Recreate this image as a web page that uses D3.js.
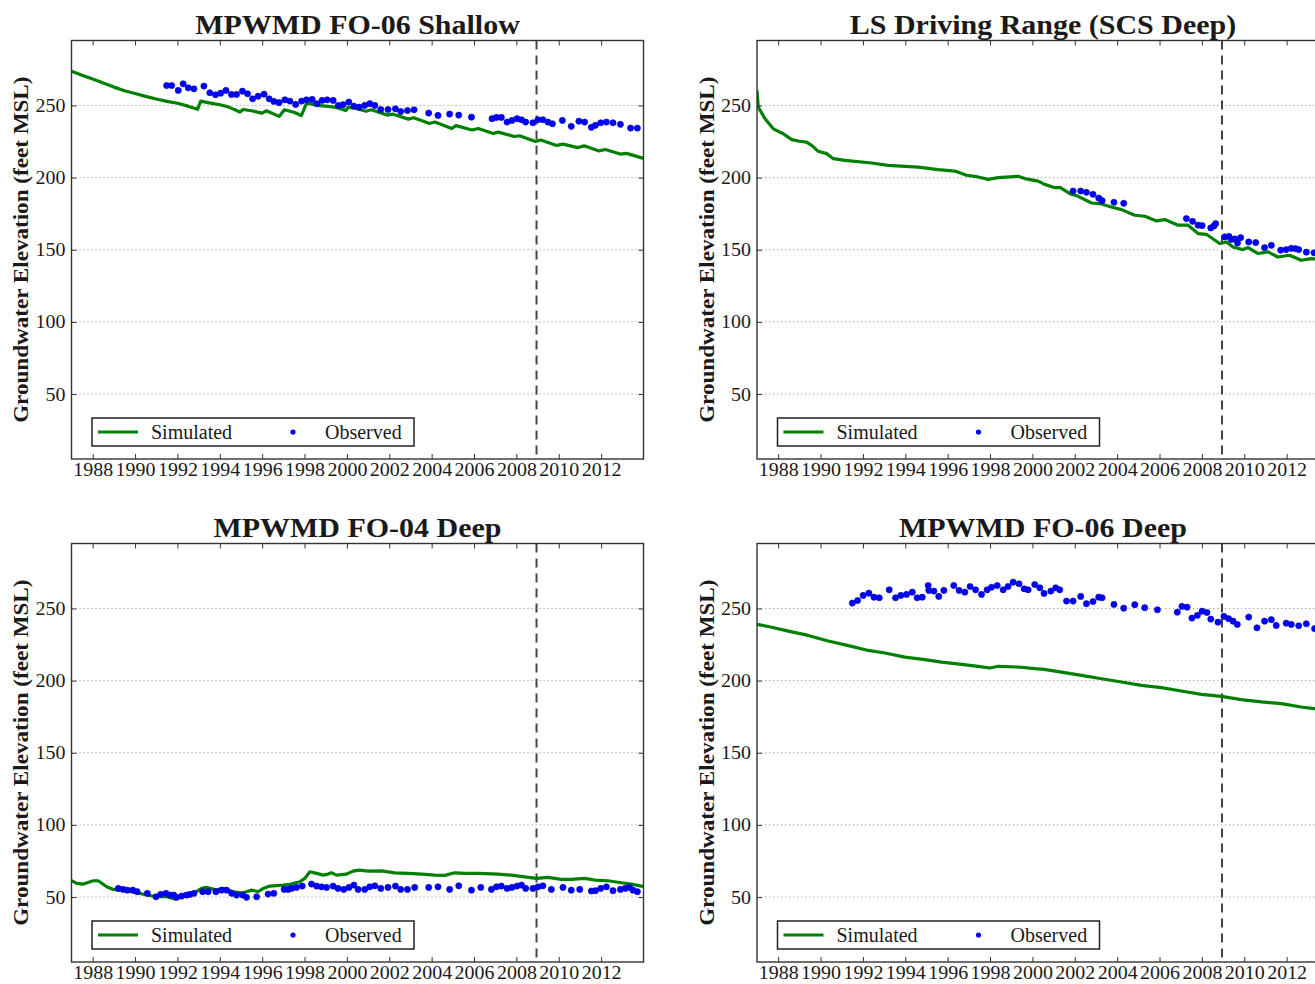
<!DOCTYPE html>
<html><head><meta charset="utf-8">
<script src="https://cdn.jsdelivr.net/npm/d3@7"></script>
<style>
body{margin:0;background:#fff;}
svg{display:block;}
text{font-family:"Liberation Serif","Times New Roman",serif;fill:#1a1a1a;}
</style>
</head><body>
<svg id="chart" width="1315" height="984"></svg>
<script>
// ---------------- DATA ----------------
const panelTitles = ["MPWMD FO-06 Shallow", "LS Driving Range (SCS Deep)", "MPWMD FO-04 Deep", "MPWMD FO-06 Deep"];
const yAxisLabel = "Groundwater Elevation (feet MSL)";
const legendLabels = ["Simulated", "Observed"];
const xTickValues = [1988,1990,1992,1994,1996,1998,2000,2002,2004,2006,2008,2010,2012];
const yTickValues = [50,100,150,200,250];
const xDomain = [1987, 2014];
const yDomain = [5, 295];
const calibrationEnd = 2008.95;

// [decimal year, feet MSL]
const fo06ShallowSim = [[1987.0,273.7],[1987.5,271.0],[1988.0,268.3],[1988.5,265.5],[1989.0,262.7],[1989.5,260.2],[1990.0,258.3],[1990.5,256.3],[1991.0,254.5],[1991.5,252.8],[1992.0,251.5],[1992.5,249.5],[1992.95,247.3],[1993.1,253.0],[1993.5,251.8],[1994.0,250.5],[1994.4,249.0],[1994.95,245.4],[1995.1,247.2],[1995.5,246.3],[1996.0,244.7],[1996.2,246.3],[1996.8,242.4],[1997.05,247.0],[1997.5,245.3],[1997.85,243.0],[1998.1,251.8],[1998.6,250.0],[1999.0,249.5],[1999.5,248.6],[1999.95,246.5],[2000.05,248.6],[2000.4,248.1],[2000.9,246.0],[2001.15,247.0],[2001.9,243.3],[2002.15,244.0],[2002.9,240.5],[2003.15,241.5],[2003.9,237.5],[2004.15,238.5],[2004.95,234.0],[2005.15,236.0],[2005.9,233.0],[2006.2,234.0],[2006.9,230.5],[2007.15,231.5],[2007.9,228.5],[2008.15,229.0],[2008.9,225.0],[2009.15,226.0],[2009.9,222.3],[2010.2,223.2],[2010.9,220.8],[2011.2,222.0],[2011.9,218.5],[2012.2,219.5],[2012.9,216.3],[2013.2,216.8],[2014.0,213.3]];
const fo06ShallowObs = [[1991.49,263.8],[1991.73,263.8],[1992.04,260.4],[1992.27,265.0],[1992.51,262.2],[1992.78,261.5],[1993.25,263.4],[1993.53,258.8],[1993.80,257.4],[1994.04,258.5],[1994.29,260.4],[1994.55,257.6],[1994.79,257.6],[1995.07,259.9],[1995.31,258.1],[1995.55,254.6],[1995.81,256.4],[1996.09,257.8],[1996.33,254.6],[1996.55,252.8],[1996.80,251.9],[1997.07,253.9],[1997.31,253.0],[1997.58,250.7],[1997.86,253.0],[1998.09,253.9],[1998.36,254.2],[1998.59,251.2],[1998.83,253.5],[1999.07,253.9],[1999.35,253.5],[1999.59,250.0],[1999.82,250.5],[2000.09,252.3],[2000.33,249.5],[2000.58,248.8],[2000.84,250.0],[2001.08,251.2],[2001.32,250.0],[2001.60,247.2],[2001.94,247.2],[2002.29,247.7],[2002.54,245.8],[2002.86,246.5],[2003.17,247.0],[2003.86,244.7],[2004.30,243.1],[2004.85,244.0],[2005.28,243.3],[2005.88,241.9],[2006.85,240.8],[2007.06,241.7],[2007.29,241.7],[2007.56,238.5],[2007.79,239.6],[2008.03,240.8],[2008.24,240.1],[2008.44,238.5],[2008.78,238.0],[2009.02,240.1],[2009.25,240.1],[2009.49,238.5],[2009.70,237.3],[2010.17,239.6],[2010.59,235.5],[2010.95,239.1],[2011.22,238.5],[2011.54,234.8],[2011.73,236.2],[2011.98,238.0],[2012.25,238.5],[2012.56,238.0],[2012.91,236.9],[2013.39,234.3],[2013.71,234.3]];

const lsDrivingSim = [[1987.0,260.4],[1987.06,248.8],[1987.38,240.8],[1987.77,233.8],[1988.24,230.4],[1988.64,226.3],[1989.0,225.2],[1989.34,224.6],[1989.58,222.3],[1989.89,218.2],[1990.29,216.6],[1990.6,213.1],[1991.15,211.9],[1992.41,210.1],[1993.19,208.5],[1994.61,207.3],[1995.55,205.5],[1996.34,204.5],[1996.89,201.6],[1997.28,200.9],[1997.91,198.8],[1998.38,200.0],[1999.33,200.9],[1999.64,199.3],[2000.27,197.6],[2000.58,195.3],[2001.06,193.0],[2001.3,193.2],[2001.77,188.9],[2002.16,187.0],[2002.79,182.4],[2003.18,182.0],[2003.73,179.6],[2004.21,177.8],[2004.83,173.9],[2005.31,173.2],[2005.86,170.0],[2006.25,170.9],[2006.88,167.0],[2007.35,167.0],[2007.82,161.2],[2008.21,160.7],[2008.84,154.3],[2009.16,155.4],[2009.47,151.9],[2009.94,150.1],[2010.18,151.5],[2010.65,147.4],[2011.12,148.5],[2011.59,145.0],[2012.14,146.2],[2012.69,142.7],[2013.16,143.9],[2014.0,142.5]];
const lsDrivingObs = [[2001.92,190.7],[2002.28,190.7],[2002.55,189.8],[2002.86,188.4],[2003.13,185.8],[2003.29,184.0],[2003.85,182.9],[2004.31,182.2],[2007.27,171.6],[2007.56,169.7],[2007.82,167.0],[2008.01,166.7],[2008.42,165.1],[2008.57,166.5],[2008.65,168.1],[2009.08,158.9],[2009.28,159.3],[2009.39,157.1],[2009.55,157.5],[2009.68,154.7],[2009.83,158.4],[2010.21,155.4],[2010.54,155.0],[2010.96,151.5],[2011.28,153.1],[2011.72,149.7],[2011.98,150.1],[2012.22,151.0],[2012.41,150.8],[2012.57,150.1],[2012.93,148.3],[2013.29,147.9],[2013.6,148.6]];

const fo04DeepSim = [[1987.0,61.3],[1987.25,59.5],[1987.56,59.0],[1988.03,61.3],[1988.26,61.3],[1988.66,57.1],[1988.97,55.3],[1989.6,54.4],[1990.08,53.0],[1990.55,51.4],[1991.02,50.2],[1991.49,50.2],[1991.88,48.6],[1992.27,50.2],[1992.75,52.6],[1993.14,56.0],[1993.38,56.7],[1993.85,54.8],[1994.16,56.0],[1994.63,53.7],[1995.03,53.0],[1995.26,53.7],[1995.5,54.8],[1995.81,53.7],[1996.05,56.0],[1996.36,57.6],[1996.99,58.3],[1997.31,58.8],[1997.78,60.6],[1998.01,62.9],[1998.25,67.5],[1998.57,66.4],[1998.88,65.2],[1999.11,65.9],[1999.27,66.8],[1999.51,65.2],[1999.98,65.9],[2000.29,68.0],[2000.58,68.7],[2001.0,68.0],[2001.63,68.2],[2002.26,66.8],[2002.89,66.4],[2003.52,65.9],[2004.15,65.2],[2004.62,65.0],[2005.09,66.8],[2005.56,66.4],[2006.19,66.4],[2007.13,65.9],[2007.76,65.2],[2008.39,64.0],[2008.94,62.9],[2009.49,63.6],[2010.12,62.2],[2010.59,62.2],[2011.22,62.9],[2011.69,61.8],[2012.32,61.3],[2012.95,59.9],[2013.42,59.0],[2013.9,57.6],[2014.0,57.3]];
const fo04DeepObs = [[1989.21,56.0],[1989.44,55.3],[1989.63,54.8],[1989.89,54.8],[1990.10,53.7],[1990.58,52.6],[1990.99,50.2],[1991.21,51.9],[1991.46,52.6],[1991.65,51.4],[1991.83,51.4],[1991.96,49.8],[1992.20,50.7],[1992.43,51.4],[1992.59,51.9],[1992.78,52.6],[1993.19,53.7],[1993.45,53.7],[1993.82,53.7],[1994.08,54.8],[1994.32,54.8],[1994.56,52.6],[1994.79,51.4],[1995.08,51.4],[1995.26,49.8],[1995.74,50.2],[1996.28,52.1],[1996.55,52.6],[1997.04,55.3],[1997.23,55.3],[1997.39,56.0],[1997.62,56.7],[1997.89,57.6],[1998.33,59.0],[1998.57,57.6],[1998.80,57.1],[1999.04,56.7],[1999.35,57.6],[1999.58,56.0],[1999.85,55.3],[2000.10,56.7],[2000.33,58.3],[2000.53,55.3],[2000.84,55.3],[2001.08,57.1],[2001.32,57.8],[2001.60,56.0],[2001.94,56.7],[2002.29,57.6],[2002.54,55.3],[2002.86,55.3],[2003.20,56.7],[2003.86,56.7],[2004.30,57.1],[2004.85,55.3],[2005.28,57.8],[2005.88,54.8],[2006.32,56.7],[2006.82,55.3],[2007.06,57.1],[2007.29,57.6],[2007.56,56.0],[2007.79,56.7],[2008.03,57.6],[2008.24,58.3],[2008.44,56.0],[2008.78,56.0],[2009.02,57.1],[2009.25,57.8],[2009.65,55.3],[2010.20,56.7],[2010.59,54.8],[2010.99,55.3],[2011.54,54.2],[2011.73,54.4],[2011.98,56.0],[2012.25,57.1],[2012.56,54.4],[2012.91,55.3],[2013.14,56.0],[2013.34,56.7],[2013.50,54.8],[2013.71,53.7]];

const fo06DeepSim = [[1987.0,239.0],[1987.53,237.5],[1988.48,234.3],[1989.42,231.3],[1990.36,227.4],[1991.47,223.7],[1992.25,220.9],[1993.04,219.1],[1993.98,216.3],[1994.92,214.5],[1995.71,212.8],[1996.66,211.2],[1997.44,209.9],[1997.99,208.7],[1998.38,209.9],[1999.33,209.4],[2000.11,208.3],[2000.55,207.8],[2001.37,205.9],[2002.32,203.6],[2003.26,201.3],[2004.2,199.0],[2005.15,196.7],[2006.09,195.1],[2007.03,192.8],[2007.98,190.5],[2008.92,189.1],[2009.86,186.8],[2010.81,185.2],[2011.75,184.0],[2012.69,181.7],[2013.29,180.6],[2014.0,179.5]];
const fo06DeepObs = [[1991.50,253.7],[1991.75,255.5],[1992.01,259.0],[1992.28,260.6],[1992.52,257.8],[1992.77,257.4],[1993.24,262.9],[1993.54,257.4],[1993.79,259.0],[1994.06,259.7],[1994.33,261.3],[1994.56,257.4],[1994.80,257.8],[1995.08,265.9],[1995.11,262.5],[1995.35,262.0],[1995.58,258.3],[1995.82,262.5],[1996.29,265.9],[1996.54,262.5],[1996.81,261.3],[1997.06,265.2],[1997.32,262.9],[1997.60,259.7],[1997.86,262.9],[1998.07,264.7],[1998.34,265.9],[1998.62,262.9],[1998.85,265.2],[1999.09,268.2],[1999.37,267.1],[1999.61,263.6],[1999.80,262.9],[2000.11,266.6],[2000.35,264.3],[2000.55,260.4],[2000.87,262.0],[2001.10,264.3],[2001.29,262.9],[2001.61,255.1],[2001.92,255.1],[2002.28,258.3],[2002.55,253.3],[2002.86,254.8],[2003.13,257.8],[2003.29,257.4],[2003.85,252.8],[2004.31,250.2],[2004.83,252.6],[2005.30,250.5],[2005.90,249.1],[2006.84,247.4],[2007.06,251.4],[2007.30,250.9],[2007.53,243.3],[2007.79,245.2],[2008.01,248.1],[2008.24,247.2],[2008.42,242.6],[2008.76,240.5],[2009.04,244.5],[2009.26,242.9],[2009.47,241.2],[2009.67,238.9],[2010.21,244.0],[2010.60,236.6],[2010.96,241.2],[2011.28,242.2],[2011.51,238.2],[2011.98,239.8],[2012.22,238.9],[2012.57,238.0],[2012.93,239.4],[2013.32,236.0]];

const simulatedSeries = [fo06ShallowSim, lsDrivingSim, fo04DeepSim, fo06DeepSim];
const observedSeries  = [fo06ShallowObs, lsDrivingObs, fo04DeepObs, fo06DeepObs];

// ---------------- DRAWING ----------------
const svg = d3.select("#chart");
const W = 572, H = 418.5;
const origins = [[71.5, 40.5], [757, 40.5], [71.5, 543.5], [757, 543.5]];
const GREEN = "#008000", BLUE = "#0000ff";

panelTitles.forEach((title, i) => {
  const [ox, oy] = origins[i];
  const g = svg.append("g").attr("transform", `translate(${ox},${oy})`);
  const x = d3.scaleLinear().domain(xDomain).range([0, W]);
  const y = d3.scaleLinear().domain(yDomain).range([H, 0]);

  const clipId = "clip" + i;
  g.append("clipPath").attr("id", clipId).append("rect").attr("width", W).attr("height", H);

  // grid
  g.append("g").selectAll("line").data(yTickValues).join("line")
    .attr("x1", 0).attr("x2", W).attr("y1", d => y(d)).attr("y2", d => y(d))
    .attr("stroke", "#9a9a9a").attr("stroke-width", 1).attr("stroke-dasharray", "1.2,2.8");

  const plot = g.append("g").attr("clip-path", `url(#${clipId})`);

  // calibration / verification divider
  plot.append("line")
    .attr("x1", x(calibrationEnd)).attr("x2", x(calibrationEnd))
    .attr("y1", 0).attr("y2", H)
    .attr("stroke", "#444").attr("stroke-width", 2).attr("stroke-dasharray", "9,6");

  // simulated
  plot.append("path").datum(simulatedSeries[i])
    .attr("fill", "none").attr("stroke", GREEN).attr("stroke-width", 3.2)
    .attr("stroke-linejoin", "round")
    .attr("d", d3.line().x(d => x(d[0])).y(d => y(d[1])));

  // observed
  plot.append("g").selectAll("circle").data(observedSeries[i]).join("circle")
    .attr("cx", d => x(d[0])).attr("cy", d => y(d[1])).attr("r", 3.1)
    .attr("fill", BLUE).attr("stroke", "#0000b0").attr("stroke-width", 0.6);

  // axes
  const fmt = d3.format("d");
  const axB = g.append("g").attr("transform", `translate(0,${H})`)
    .call(d3.axisBottom(x).tickValues(xTickValues).tickFormat(fmt).tickSize(-5).tickPadding(4));
  const axT = g.append("g")
    .call(d3.axisTop(x).tickValues(xTickValues).tickFormat("").tickSize(-5));
  const axL = g.append("g")
    .call(d3.axisLeft(y).tickValues(yTickValues).tickFormat(fmt).tickSize(-5).tickPadding(6));
  const axR = g.append("g").attr("transform", `translate(${W},0)`)
    .call(d3.axisRight(y).tickValues(yTickValues).tickFormat("").tickSize(-5));
  [axB, axT, axL, axR].forEach(a => {
    a.select(".domain").remove();
    a.selectAll(".tick line").attr("stroke", "#333").attr("stroke-width", 1);
    a.selectAll(".tick text").attr("font-size", 19).attr("fill", "#1a1a1a")
      .style("font-family", '"Liberation Serif","Times New Roman",serif');
  });
  axB.selectAll(".tick text").each(function () {
    const len = this.getComputedTextLength();
    d3.select(this).attr("textLength", len * 1.05).attr("lengthAdjust", "spacingAndGlyphs");
  });
  axL.selectAll(".tick text").each(function () {
    const len = this.getComputedTextLength();
    d3.select(this).attr("textLength", len * 1.05).attr("lengthAdjust", "spacingAndGlyphs");
  });

  // frame
  g.append("rect").attr("width", W).attr("height", H)
    .attr("fill", "none").attr("stroke", "#333").attr("stroke-width", 1.4);

  // title
  const t = g.append("text").attr("x", W / 2).attr("y", -6.5)
    .attr("text-anchor", "middle").attr("font-size", 27).attr("font-weight", "bold")
    .text(title);
  const tl = t.node().getComputedTextLength();
  t.attr("textLength", tl * 1.11).attr("lengthAdjust", "spacingAndGlyphs");

  // y label
  const yl = g.append("text")
    .attr("transform", `translate(-43.5,${H / 2}) rotate(-90)`)
    .attr("text-anchor", "middle").attr("font-size", 21).attr("font-weight", "bold")
    .text(yAxisLabel);
  const yll = yl.node().getComputedTextLength();
  yl.attr("textLength", yll * 1.1).attr("lengthAdjust", "spacingAndGlyphs");

  // legend
  const lg = g.append("g");
  lg.append("rect").attr("x", 20.5).attr("y", H - 41).attr("width", 322).attr("height", 28)
    .attr("fill", "#fff").attr("stroke", "#222").attr("stroke-width", 1.5);
  lg.append("line").attr("x1", 26.5).attr("x2", 66.5).attr("y1", H - 27).attr("y2", H - 27)
    .attr("stroke", GREEN).attr("stroke-width", 3);
  lg.append("text").attr("x", 79.5).attr("y", H - 20).attr("font-size", 20).text(legendLabels[0]);
  lg.append("circle").attr("cx", 221.5).attr("cy", H - 27).attr("r", 2.6).attr("fill", BLUE);
  lg.append("text").attr("x", 253.5).attr("y", H - 20).attr("font-size", 20).text(legendLabels[1]);
});
</script>
</body></html>
